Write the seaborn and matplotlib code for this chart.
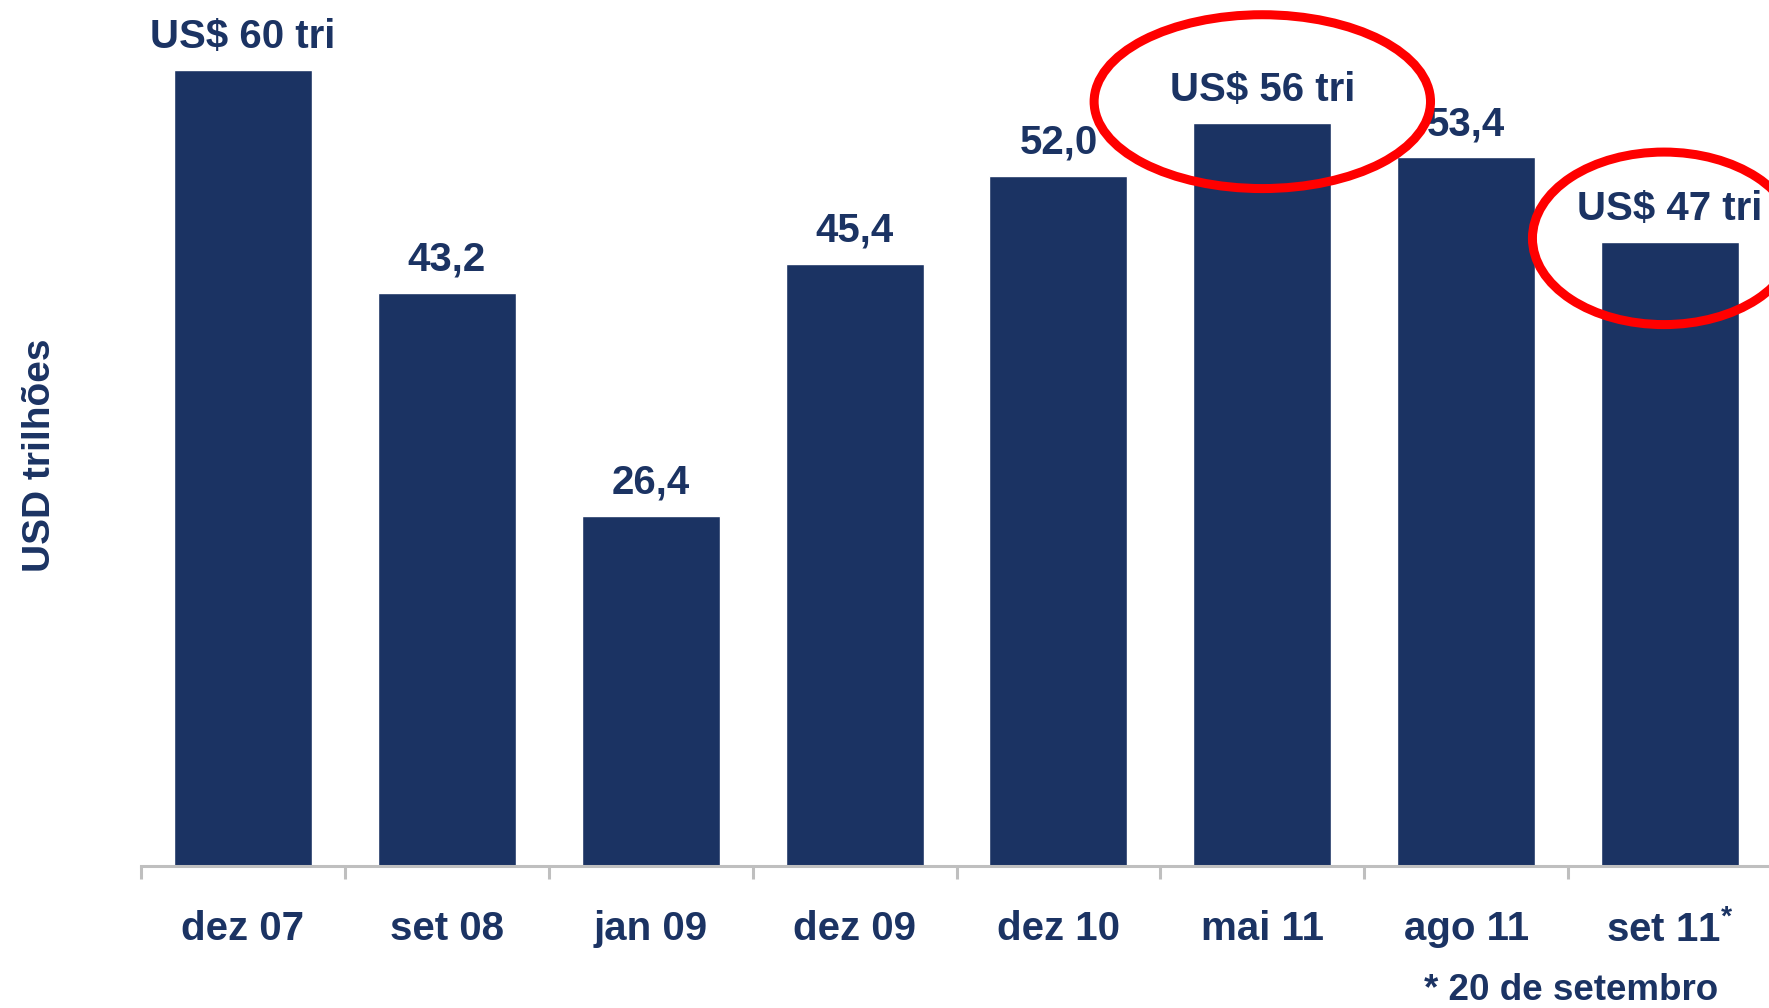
import matplotlib
matplotlib.use("Agg")
import matplotlib.pyplot as plt
from matplotlib.patches import Ellipse
import numpy as np
import pandas as pd
import seaborn as sns

periods = ["dez 07", "set 08", "jan 09", "dez 09", "dez 10", "mai 11", "ago 11", "set 11$^{*}$"]
valores = [60.0, 43.2, 26.4, 45.4, 52.0, 56.0, 53.4, 47.0]
rotulos = ["US$ 60 tri", "43,2", "26,4", "45,4", "52,0", "US$ 56 tri", "53,4", "US$ 47 tri"]
destaques = ["mai 11", "set 11$^{*}$"]

navy = "#1b3363"
grey = "#bfbfbf"

sns.set_style("white")
plt.rcParams["font.family"] = ["Liberation Sans", "DejaVu Sans"]
plt.rcParams["font.weight"] = "bold"
plt.rcParams["mathtext.fontset"] = "custom"
plt.rcParams["mathtext.rm"] = "Liberation Sans:bold"
plt.rcParams["mathtext.it"] = "Liberation Sans:bold"
plt.rcParams["mathtext.bf"] = "Liberation Sans:bold"

df = pd.DataFrame({"periodo": periods, "valor": valores})

fig = plt.figure(figsize=(17.69, 10.08), dpi=100)
ax = fig.add_axes([141 / 1769, 142 / 1008, 1631 / 1769, 866 / 1008])

sns.barplot(data=df, x="periodo", y="valor", color=navy, saturation=1,
            width=0.677, ax=ax)

ax.set_xlim(-0.5, 7.5)
ax.set_ylim(0, 65.26)

for i, (v, lab) in enumerate(zip(valores, rotulos)):
    ax.annotate(lab, (i, v), xytext=(0, 16), textcoords="offset points",
                ha="center", va="baseline", fontsize=29, color=navy,
                fontweight="bold")

# red circles around the highlighted values
for p, (dx, dy, w, h) in zip(destaques, [(0.0, 1.6, 1.65, 13.1), (-0.03, 0.3, 1.29, 13.0)]):
    i = periods.index(p)
    e = Ellipse((i + dx, valores[i] + dy), w, h, fill=False,
                edgecolor="#ff0000", linewidth=6.5, clip_on=False, zorder=5)
    ax.add_patch(e)

sns.despine(ax=ax, left=True, top=True, right=True)
ax.spines["bottom"].set_color(grey)
ax.spines["bottom"].set_linewidth(2.2)
ax.set_yticks([])
ax.set_xlabel("")
ax.set_ylabel("USD trilhões", fontsize=28, color=navy, fontweight="bold",
              labelpad=60, y=0.474)

ax.set_xticks(np.arange(-0.5, 7.6, 1), minor=True)
ax.tick_params(axis="x", which="minor", bottom=True, length=9.4, width=2.2,
               color=grey, direction="out")
ax.tick_params(axis="x", which="major", bottom=True, length=0, pad=32,
               labelsize=29, labelcolor=navy)
for t in ax.get_xticklabels():
    t.set_fontweight("bold")

fig.text(1424 / 1769, 1 - 990 / 1008, "* 20 de setembro", fontsize=26.5, color=navy,
         fontweight="bold", ha="left", va="center")

fig.savefig("out.png", dpi=100)
plt.close(fig)
